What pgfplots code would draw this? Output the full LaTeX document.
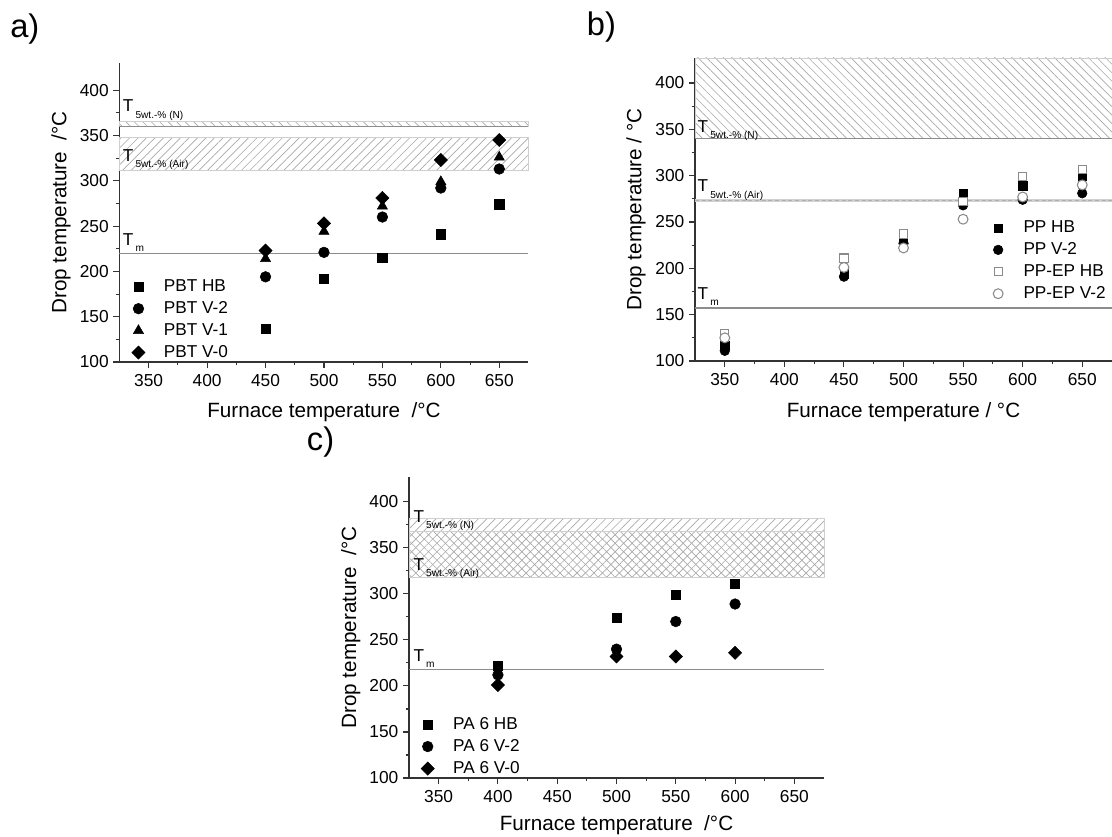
\documentclass[border=0pt]{standalone}
\usepackage{fontspec}
\setmainfont{Liberation Sans}
\usepackage{pgfplots}
\pgfplotsset{compat=1.18}
\usetikzlibrary{patterns.meta}

\definecolor{refline}{HTML}{8C8C8C}
\definecolor{hatch}{HTML}{A8A8A8}
\definecolor{bandedge}{HTML}{CFCFCF}
\definecolor{openmark}{HTML}{8A8A8A}

% T with a lowered small subscript, as used for the reference levels
\newcommand{\Tlab}[1]{T\kern1.6pt\raisebox{-4.6pt}{\fontsize{7.6}{9}\selectfont #1}}

\tikzset{Tnode/.style={anchor=base west, inner sep=0pt, font=\fontsize{12.9}{15}\selectfont}}

\pgfplotsset{
  panel/.style={
    scale only axis,
    axis lines*=left,
    xmin=325, xmax=675, ymin=100,
    xtick={350,400,...,650}, ytick={100,150,...,400},
    minor x tick num=1, minor y tick num=1,
    tick align=outside,
    major tick length=4.5pt, minor tick length=2.6pt,
    axis line style={line width=0.9pt, black!80},
    every tick/.style={line width=0.8pt, black!80},
    tick label style={font=\fontsize{13}{15}\selectfont},
    xticklabel style={yshift=-1.2pt},
    /pgf/number format/assume math mode=true,
    clip=false,
    legend style={draw=none, fill=none, font=\fontsize{12.9}{15}\selectfont,
      row sep=2pt, inner xsep=2pt, inner ysep=1pt},
    legend cell align=left,
    legend image code/.code={\draw[##1] plot coordinates {(0pt,0pt)};
      \path[draw=none, fill=none] (-5pt,-1pt) rectangle (17pt,1pt);},
  },
  xlab/.style={every axis x label/.style={at={(axis description cs:0.5,#1)}, anchor=base,
      font=\fontsize{15.5}{18}\selectfont}},
  ylab/.style={every axis y label/.style={at={(axis description cs:#1,0.5)}, rotate=90, anchor=center,
      font=\fontsize{15.5}{18}\selectfont}},
  sq/.style={only marks, mark=square*, mark size=3.5pt, black},
  ci/.style={only marks, mark=*, mark size=4pt, black},
  tr/.style={only marks, mark=triangle*, mark size=4.4pt, black},
  di/.style={only marks, mark=square*, mark size=3.5pt, mark options={rotate=45}, black},
  hatchNE/.style={draw=bandedge, line width=0.6pt, forget plot,
    pattern={Lines[angle=45, distance=4.5pt, line width=0.5pt]}, pattern color=hatch},
  hatchNW/.style={draw=bandedge, line width=0.6pt, forget plot,
    pattern={Lines[angle=-45, distance=4.5pt, line width=0.5pt]}, pattern color=hatch},
  level/.style={refline, line width=1.1pt, forget plot},
}

\begin{document}
\begin{tikzpicture}
\clip (0pt,0pt) rectangle (834pt,627pt);

\node[anchor=base west, inner sep=0pt, font=\fontsize{24.5}{28}\selectfont] at (7.5pt,598.5pt) {a)};
\node[anchor=base west, inner sep=0pt, font=\fontsize{24.5}{28}\selectfont] at (440pt,600.7pt) {b)};
\node[anchor=base west, inner sep=0pt, font=\fontsize{24.5}{28}\selectfont] at (230pt,289.5pt) {c)};

% ---------------- a) PBT ----------------
\begin{axis}[panel,
  at={(89.6pt,355.5pt)}, anchor=south west,
  width=306.75pt, height=224.25pt, ymax=430,
  xlabel={Furnace temperature~ /°C},
  ylabel={Drop temperature~ /°C},
  xlab=-0.184, ylab=-0.143,
  legend style={at={(axis description cs:0.023,0.289)}, anchor=north west},
]
\addplot[hatchNW] coordinates {(325,360) (675,360) (675,365) (325,365) (325,360)};
\addplot[hatchNE] coordinates {(325,312) (675,312) (675,348) (325,348) (325,312)};
\addplot[level] coordinates {(325,360) (675,360)};
\addplot[level] coordinates {(325,220) (675,220)};

\addplot[sq] coordinates {(450,137) (500,192) (550,215) (600,241) (650,274)};
\addplot[ci] coordinates {(450,194) (500,221) (550,260) (600,292) (650,313)};
\addplot[tr] coordinates {(450,214) (500,244) (550,272) (600,299) (650,326)};
\addplot[di] coordinates {(450,223) (500,253) (550,281) (600,323) (650,345)};
\legend{PBT HB, PBT V-2, PBT V-1, PBT V-0}

\node[Tnode] at (axis cs:327.7,376) {\Tlab{5wt.-\% (N)}};
\node[Tnode] at (axis cs:327.7,321.7) {\Tlab{5wt.-\% (Air)}};
\node[Tnode] at (axis cs:327.7,229) {\Tlab{m}};
\end{axis}

% ---------------- b) PP ----------------
\begin{axis}[panel,
  at={(521.25pt,356.25pt)}, anchor=south west,
  width=312.75pt, height=227.25pt, ymax=427,
  xlabel={Furnace temperature / °C},
  ylabel={Drop temperature / °C},
  xlab=-0.186, ylab=-0.1415,
  legend style={at={(axis description cs:0.704,0.476)}, anchor=north west},
]
\addplot[hatchNW] coordinates {(325,340) (675,340) (675,427) (325,427) (325,340)};
\addplot[level] coordinates {(325,340) (675,340)};
\addplot[black!18, line width=2.2pt, forget plot] coordinates {(325,273.5) (675,273.5)};
\addplot[refline!70, line width=0.8pt, dash pattern=on 3pt off 2pt, forget plot] coordinates {(325,273.5) (675,273.5)};
\addplot[level] coordinates {(325,157) (675,157)};

\addplot[only marks, mark=square*, mark size=3.1pt, black]
  coordinates {(350,117) (450,194) (500,230) (550,281) (600,289) (650,299)};
\addplot[only marks, mark=*, mark size=3.6pt, black]
  coordinates {(350,111) (450,191) (500,227) (550,268) (600,274) (650,281)};
\addplot[only marks, mark=square*, mark size=3.1pt, draw=openmark, fill=white, mark options={line width=0.8pt}]
  coordinates {(350,130) (450,211) (500,237) (550,272) (600,299) (650,307)};
\addplot[only marks, mark=*, mark size=3.7pt, draw=openmark, fill=white, mark options={line width=0.8pt}]
  coordinates {(350,125) (450,201) (500,222) (550,253) (600,277) (650,290)};
\legend{PP HB, PP V-2, PP-EP HB, PP-EP V-2}

\node[Tnode] at (axis cs:327,347) {\Tlab{5wt.-\% (N)}};
\node[Tnode] at (axis cs:327,282.5) {\Tlab{5wt.-\% (Air)}};
\node[Tnode] at (axis cs:327,166.6) {\Tlab{m}};
\end{axis}

% ---------------- c) PA 6 ----------------
\begin{axis}[panel,
  at={(306.75pt,43.5pt)}, anchor=south west,
  width=311.25pt, height=225.75pt, ymax=427,
  xlabel={Furnace temperature~ /°C},
  ylabel={Drop temperature~ /°C},
  xlab=-0.176, ylab=-0.140,
  legend style={at={(axis description cs:0.022,0.215)}, anchor=north west},
]
\addplot[hatchNE] coordinates {(325,318) (675,318) (675,382) (325,382) (325,318)};
\addplot[hatchNW] coordinates {(325,318) (675,318) (675,367.5) (325,367.5) (325,318)};
\addplot[level] coordinates {(325,218) (675,218)};

\addplot[sq] coordinates {(400,222) (500,274) (550,299) (600,311)};
\addplot[ci] coordinates {(400,212) (500,240) (550,270) (600,289)};
\addplot[di] coordinates {(400,201) (500,232) (550,232) (600,236)};
\legend{PA 6 HB, PA 6 V-2, PA 6 V-0}

\node[Tnode] at (axis cs:328.6,377.6) {\Tlab{5wt.-\% (N)}};
\node[Tnode] at (axis cs:328.6,325.8) {\Tlab{5wt.-\% (Air)}};
\node[Tnode] at (axis cs:328.6,226.8) {\Tlab{m}};
\end{axis}
\end{tikzpicture}
\end{document}
